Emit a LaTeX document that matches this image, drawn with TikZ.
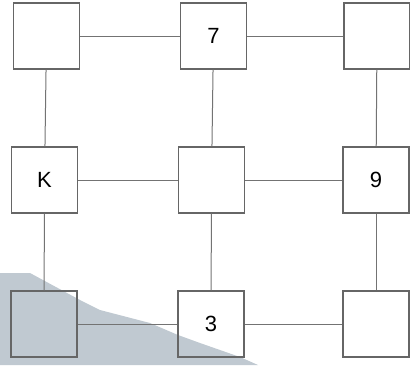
\documentclass[tikz,border=0pt]{standalone}
\usepackage{fontspec}
\setmainfont{Liberation Sans}
\begin{document}
\begin{tikzpicture}[x=1pt,y=-1pt,
  cell/.style={draw=black!60, line width=1.1pt, minimum size=66pt, inner sep=0pt, font=\fontsize{22}{25}\selectfont},
  link/.style={draw=black!55, line width=1pt}]
\useasboundingbox (0,0) rectangle (410,365);
\definecolor{wedgecol}{RGB}{192,201,209}
\fill[wedgecol] (0,273) -- (30,273) -- (80,300) -- (100,310) -- (150,323) -- (178,335) -- (200,343) -- (240,357) -- (258,365) -- (0,365) -- cycle;
\node[cell] (tl) at (46.5,36) {};
\node[cell] (tm) at (213.5,36) {7};
\node[cell] (tr) at (377,36) {};
\node[cell] (ml) at (44.5,180) {K};
\node[cell] (mm) at (211.5,180) {};
\node[cell] (mr) at (376,180) {9};
\node[cell] (bl) at (44,324) {};
\node[cell] (bm) at (211,324) {3};
\node[cell] (br) at (376,324) {};
\draw[link] (tl) -- (tm);
\draw[link] (tm) -- (tr);
\draw[link] (ml) -- (mm);
\draw[link] (mm) -- (mr);
\draw[link] (bl) -- (bm);
\draw[link] (bm) -- (br);
\draw[link] (tl) -- (ml);
\draw[link] (ml) -- (bl);
\draw[link] (tm) -- (mm);
\draw[link] (mm) -- (bm);
\draw[link] (tr) -- (mr);
\draw[link] (mr) -- (br);
\end{tikzpicture}
\end{document}
